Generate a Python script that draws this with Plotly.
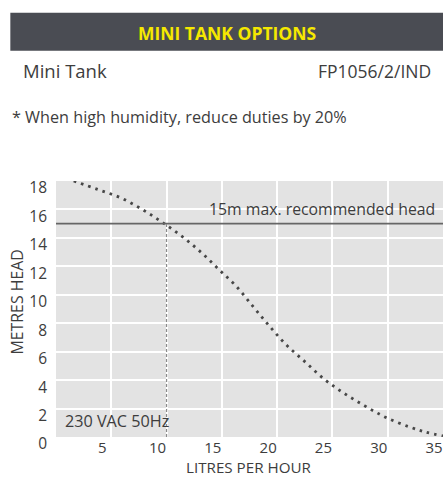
import plotly.graph_objects as go

# ---- data ----
flow_lph = [1.6, 3.8, 5.9, 7.8, 9.6, 11.4, 13.1, 14.7, 16.3, 17.9, 19.3, 20.8,
            22.5, 24.2, 26.0, 27.9, 29.9, 32.0, 33.4, 35.0]
head_m = [18.0, 17.4, 16.8, 16.0, 15.1, 14.1, 13.0, 11.8, 10.6, 9.1, 7.8, 6.5,
          5.3, 4.1, 3.1, 2.2, 1.35, 0.7, 0.35, 0.07]
max_head = 15
duty_flow = 10
x_ticks = [5, 10, 15, 20, 25, 30, 35]
y_ticks = [0, 2, 4, 6, 8, 10, 12, 14, 16, 18]

W, H = 443, 477
L, R, T, B = 55.7, 443, 180.5, 437
FONT = "Open Sans"
TXT = "#3d3d3d"


def px(x):
    return (x - L) / (R - L)


def py(y):
    return (B - y) / (B - T)


fig = go.Figure()
fig.add_trace(go.Scatter(
    x=flow_lph, y=head_m, mode="lines", line_shape="spline",
    line=dict(color="#474747", width=2.8, dash="2.6px,5px"),
    hoverinfo="skip", showlegend=False))

shapes = [
    dict(type="rect", xref="paper", yref="paper", x0=px(10), x1=px(443),
         y0=py(50), y1=py(12), fillcolor="#4a4c53", line_width=0, layer="above"),
    dict(type="line", xref="paper", yref="y", x0=0, x1=1, y0=max_head, y1=max_head,
         line=dict(color="#666666", width=1.6)),
    dict(type="line", xref="x", yref="y", x0=duty_flow, x1=duty_flow, y0=0, y1=max_head,
         line=dict(color="#8a8a8a", width=1.2, dash="3px,2px")),
]

annotations = [
    dict(text="<b>MINI TANK OPTIONS</b>", x=px(226.5), y=py(32), xref="paper", yref="paper",
         xanchor="center", yanchor="middle", showarrow=False,
         font=dict(family=FONT, size=17.5, color="#f5e800")),
    dict(text="Mini Tank", x=px(21), y=py(70), xref="paper", yref="paper",
         xanchor="left", yanchor="middle", showarrow=False,
         font=dict(family=FONT, size=18.5, color=TXT)),
    dict(text="FP1056/2/IND", x=px(433), y=py(70), xref="paper", yref="paper",
         xanchor="right", yanchor="middle", showarrow=False,
         font=dict(family=FONT, size=17.5, color=TXT)),
    dict(text="* When high humidity, reduce duties by 20%", x=px(10), y=py(116),
         xref="paper", yref="paper", xanchor="left", yanchor="middle", showarrow=False,
         font=dict(family=FONT, size=16.2, color=TXT)),
    dict(text="15m max. recommended head", x=px(437), y=py(209), xref="paper",
         yref="paper", xanchor="right", yanchor="middle", showarrow=False,
         font=dict(family=FONT, size=15.8, color=TXT)),
    dict(text="230 VAC 50Hz", x=px(63), y=py(420.5), xref="paper", yref="paper",
         xanchor="left", yanchor="middle", showarrow=False,
         font=dict(family=FONT, size=16.2, color=TXT)),
    dict(text="METRES HEAD", x=px(17), y=py(302), xref="paper", yref="paper",
         xanchor="center", yanchor="middle", showarrow=False, textangle=-90,
         font=dict(family=FONT, size=15.9, color=TXT)),
    dict(text="LITRES PER HOUR", x=px(249), y=py(467.5), xref="paper", yref="paper",
         xanchor="center", yanchor="middle", showarrow=False,
         font=dict(family=FONT, size=15.2, color=TXT)),
]

fig.update_layout(
    width=W, height=H,
    margin=dict(l=L, r=W - R, t=T, b=H - B, pad=0),
    paper_bgcolor="white", plot_bgcolor="#e3e3e3",
    shapes=shapes, annotations=annotations,
    showlegend=False,
)
fig.update_xaxes(range=[0, 35], tickvals=x_ticks, ticktext=[str(v) for v in x_ticks],
                 showgrid=True, gridcolor="white", gridwidth=2, zeroline=False,
                 showline=False, ticks="", ticklabelshift=-9, ticklabelstandoff=0,
                 ticklabeloverflow="allow",
                 tickfont=dict(family=FONT, size=15, color=TXT), fixedrange=True)
fig.update_yaxes(range=[0, 18], tickvals=y_ticks, ticktext=[str(v) for v in y_ticks],
                 showgrid=True, gridcolor="white", gridwidth=2, zeroline=False,
                 showline=False, ticks="", ticklabelshift=7, ticklabelstandoff=8,
                 ticklabeloverflow="allow",
                 tickfont=dict(family=FONT, size=15.5, color=TXT), fixedrange=True)

fig.write_html("out.html", config={"displayModeBar": False},
               post_script="document.body.style.margin='0';document.body.style.overflow='hidden';")
